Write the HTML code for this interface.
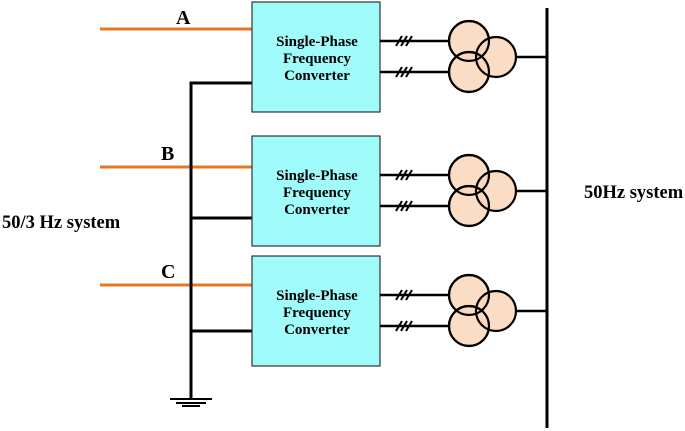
<!DOCTYPE html>
<html><head><style>body{margin:0;background:#fff}svg{display:block}</style></head><body>
<svg width="685" height="431" viewBox="0 0 685 431" xmlns="http://www.w3.org/2000/svg" font-family="Liberation Serif, serif" font-weight="bold">
<g stroke="#e87722" stroke-width="3">
<line x1="100" y1="29" x2="253" y2="29"/><line x1="100" y1="167" x2="253" y2="167"/><line x1="100" y1="285" x2="253" y2="285"/>
</g>
<g stroke="#000" stroke-width="3" fill="none">
<polyline points="252,83 191,83 191,400"/>
<line x1="191" y1="218" x2="252" y2="218"/><line x1="191" y1="331" x2="252" y2="331"/>
<line x1="547" y1="8" x2="547" y2="428"/>
</g>
<g stroke="#000" stroke-width="2"><line x1="170" y1="399" x2="212" y2="399"/><line x1="176" y1="403" x2="206" y2="403"/><line x1="182" y1="406" x2="200" y2="406"/></g>
<g id="u">
<rect x="252" y="2" width="128" height="110" fill="#a0fbfb" stroke="#333" stroke-width="1.2"/>
<g font-size="15" text-anchor="middle" fill="#000"><text x="317" y="46">Single-Phase</text><text x="317" y="63">Frequency</text><text x="317" y="80">Converter</text></g>
<g stroke="#000" stroke-width="2.5"><line x1="380" y1="41" x2="450" y2="41"/><line x1="380" y1="72" x2="450" y2="72"/><line x1="516" y1="57" x2="547" y2="57"/></g>
<g stroke="#000" stroke-width="2"><path d="M396 46l6-10M401 46l6-10M406 46l6-10M396 77l6-10M401 77l6-10M406 77l6-10"/></g>
<g fill="#fad7bb" fill-opacity="0.85" stroke="#000" stroke-width="2.2"><circle cx="469" cy="41" r="20"/><circle cx="469" cy="72" r="20"/><circle cx="496" cy="57" r="20"/></g>
<g fill="none" stroke="#000" stroke-width="2.2"><circle cx="469" cy="41" r="20"/><circle cx="469" cy="72" r="20"/></g>
</g>
<use href="#u" transform="translate(0,134)"/>
<use href="#u" transform="translate(0,254)"/>
<g font-size="20" fill="#000"><text x="176" y="24">A</text><text x="161" y="160">B</text><text x="161" y="278">C</text></g>
<g font-size="18.5" fill="#000"><text x="2" y="228">50/3 Hz system</text><text x="584" y="198">50Hz system</text></g>
</svg>
</body></html>
